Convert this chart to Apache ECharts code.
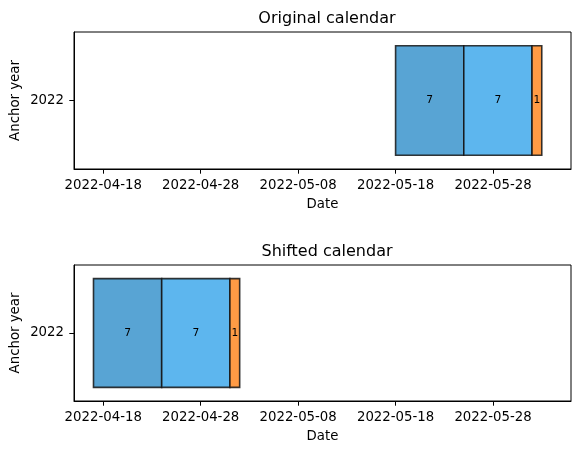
<!DOCTYPE html>
<html>
<head>
<meta charset="utf-8">
<script src="https://cdn.jsdelivr.net/npm/echarts@6/dist/echarts.min.js"></script>
<style>
  html, body { margin: 0; padding: 0; background: #fff; }
  #chart { width: 580px; height: 455px; }
</style>
</head>
<body>
<div id="chart"></div>
<script>
const years = ['2022']
const tickDates = ['2022-04-18', '2022-04-28', '2022-05-08', '2022-05-18', '2022-05-28']
const origStarts = ['2022-05-18', '2022-05-25', '2022-06-01']
const origEnds = ['2022-05-25', '2022-06-01', '2022-06-02']
const shiftStarts = ['2022-04-17', '2022-04-24', '2022-05-01']
const shiftEnds = ['2022-04-24', '2022-05-01', '2022-05-02']
const dayCounts = [7, 7, 1]
const barColors = ['#58a4d4', '#5db6ee', '#ff9b45']
const axisMin = '2022-04-15'
const axisMax = '2022-06-05'

const ts = (s) => Date.parse(s + 'T00:00:00Z')
const pad = (n) => String(n).padStart(2, '0')
const fmtDate = (v) => {
  const d = new Date(v)
  return d.getUTCFullYear() + '-' + pad(d.getUTCMonth() + 1) + '-' + pad(d.getUTCDate())
}

const font = 'DejaVu Sans'
const labelSize = 13.3

function buildData(starts, ends) {
  return starts.map((s, i) => [ts(s), ts(ends[i]), 0, dayCounts[i], i])
}

function renderItem(params, api) {
  const p0 = api.coord([api.value(0), api.value(2)])
  const p1 = api.coord([api.value(1), api.value(2)])
  const h = api.size([0, 1])[1] * 0.8
  return {
    type: 'rect',
    shape: { x: p0[0], y: p0[1] - h / 2, width: p1[0] - p0[0], height: h },
    style: {
      fill: barColors[api.value(4)],
      stroke: 'rgba(20,20,20,0.85)',
      lineWidth: 1.6,
    },
    textContent: {
      style: {
        text: String(api.value(3)),
        fontSize: 10.7,
        fontFamily: font,
        fill: '#000',
      },
    },
    textConfig: { position: 'inside' },
  }
}

function xAxisFor(gridIndex) {
  return {
    type: 'value',
    gridIndex,
    min: ts(axisMin),
    max: ts(axisMax),
    name: 'Date',
    nameLocation: 'middle',
    nameGap: 29,
    nameMoveOverlap: false,
    nameTextStyle: { fontFamily: font, fontSize: labelSize, color: '#000' },
    axisLine: { show: true, onZero: false, lineStyle: { color: '#000', width: 1 } },
    axisTick: {
      show: true,
      length: 4.7,
      lineStyle: { color: '#000' },
      customValues: tickDates.map(ts),
    },
    axisLabel: {
      color: '#000',
      fontFamily: font,
      fontSize: labelSize,
      margin: 10,
      customValues: tickDates.map(ts),
      formatter: (v) => fmtDate(v),
    },
    splitLine: { show: false },
  }
}

function yAxisFor(gridIndex) {
  return {
    type: 'category',
    gridIndex,
    data: years,
    name: 'Anchor year',
    nameLocation: 'middle',
    nameGap: 52,
    nameMoveOverlap: false,
    nameTextStyle: { fontFamily: font, fontSize: labelSize, color: '#000' },
    axisLine: { show: true, lineStyle: { color: '#000', width: 1 } },
    axisTick: { show: true, length: 4.7, alignWithLabel: true, lineStyle: { color: '#000' } },
    axisLabel: { color: '#000', fontFamily: font, fontSize: labelSize, margin: 10 },
    splitLine: { show: false },
  }
}

const chart = echarts.init(document.getElementById('chart'), null, { renderer: 'canvas' })

const gridBase = {
  left: 74,
  right: 9,
  show: true,
  borderColor: '#000',
  borderWidth: 1,
  backgroundColor: 'transparent',
  containLabel: false,
  outerBoundsMode: 'none',
}

chart.setOption({
  animation: false,
  backgroundColor: '#fff',
  title: [
    {
      text: 'Original calendar',
      left: 322,
      top: 6,
      textAlign: 'center',
      textStyle: { fontFamily: font, fontSize: 16, fontWeight: 'normal', color: '#000' },
    },
    {
      text: 'Shifted calendar',
      left: 322,
      top: 239,
      textAlign: 'center',
      textStyle: { fontFamily: font, fontSize: 16, fontWeight: 'normal', color: '#000' },
    },
  ],
  grid: [
    Object.assign({}, gridBase, { top: 32, height: 137 }),
    Object.assign({}, gridBase, { top: 265, height: 136 }),
  ],
  xAxis: [xAxisFor(0), xAxisFor(1)],
  yAxis: [yAxisFor(0), yAxisFor(1)],
  series: [
    {
      type: 'custom',
      name: 'Original calendar',
      xAxisIndex: 0,
      yAxisIndex: 0,
      renderItem,
      encode: { x: [0, 1], y: 2 },
      data: buildData(origStarts, origEnds),
    },
    {
      type: 'custom',
      name: 'Shifted calendar',
      xAxisIndex: 1,
      yAxisIndex: 1,
      renderItem,
      encode: { x: [0, 1], y: 2 },
      data: buildData(shiftStarts, shiftEnds),
    },
  ],
})
</script>
</body>
</html>
